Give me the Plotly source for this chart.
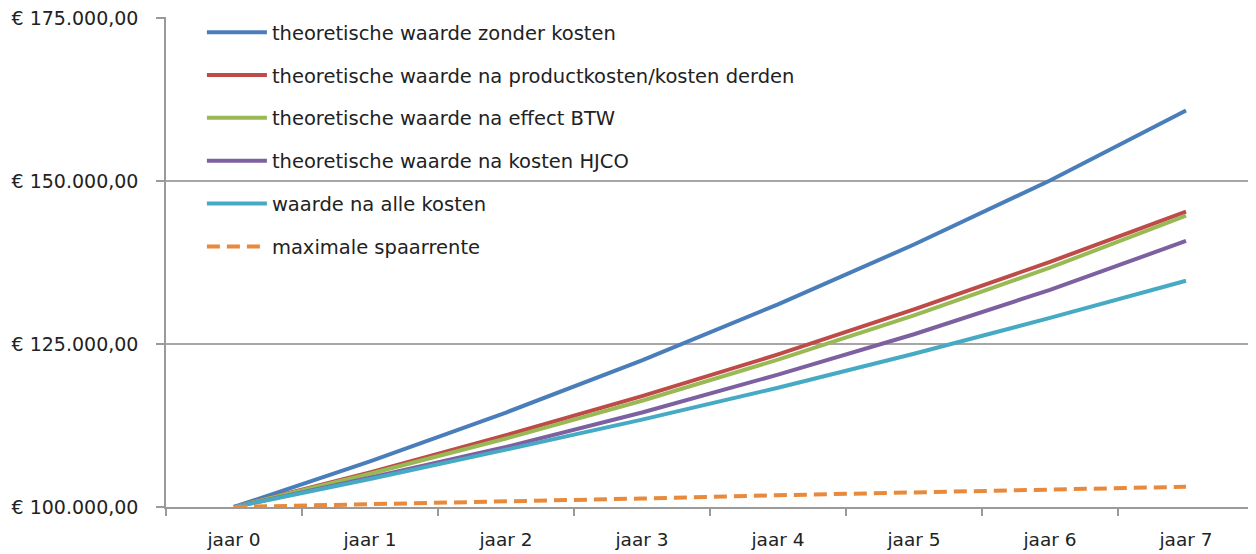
import plotly.graph_objects as go

categories = ["jaar 0", "jaar 1", "jaar 2", "jaar 3", "jaar 4", "jaar 5", "jaar 6", "jaar 7"]

zonder_kosten = [100000, 107000, 114490, 122504, 131080, 140255, 150073, 160800]
na_productkosten = [100000, 105300, 111000, 117000, 123400, 130300, 137600, 145300]
na_btw = [100000, 105100, 110500, 116300, 122600, 129400, 136700, 144700]
na_kosten_hjco = [100000, 104500, 109200, 114500, 120300, 126500, 133300, 140800]
na_alle_kosten = [100000, 104300, 108800, 113400, 118300, 123500, 129000, 134700]
spaarrente = [100000, 100400, 100900, 101300, 101800, 102200, 102600, 103100]

series_names = [
    "theoretische waarde zonder kosten",
    "theoretische waarde na productkosten/kosten derden",
    "theoretische waarde na effect BTW",
    "theoretische waarde na kosten HJCO",
    "waarde na alle kosten",
    "maximale spaarrente",
]
series_values = [zonder_kosten, na_productkosten, na_btw, na_kosten_hjco, na_alle_kosten, spaarrente]
colors = ["#4a7ebb", "#be4b48", "#98b954", "#7d60a0", "#46aac5", "#e8893b"]
dashes = ["solid", "solid", "solid", "solid", "solid", "13px,7px"]

y_tickvals = [100000, 125000, 150000, 175000]
y_ticktext = ["€ 100.000,00", "€ 125.000,00", "€ 150.000,00", "€ 175.000,00"]

fig = go.Figure()
for i, (name, vals) in enumerate(zip(series_names, series_values)):
    fig.add_trace(go.Scatter(
        x=categories, y=vals, mode="lines", name=name,
        legendgroup=f"g{i}",
        line=dict(color=colors[i], width=4, dash=dashes[i]),
    ))

# note: page body has an 8px default margin, margins compensate for it
fig.update_layout(
    width=1256, height=554,
    margin=dict(l=158, r=10, t=9, b=55, autoexpand=False),
    paper_bgcolor="white", plot_bgcolor="white",
    font=dict(family="DejaVu Sans", color="#222222", size=18),
    showlegend=True,
    legend=dict(
        xref="paper", yref="container",
        x=0.033, y=0.991, xanchor="left", yanchor="top",
        bgcolor="rgba(0,0,0,0)", font=dict(size=19.5, family="DejaVu Sans"),
        tracegroupgap=14.5, itemwidth=60,
    ),
    xaxis=dict(
        type="category", range=[-0.5, 7.5], showgrid=False,
        showline=True, linecolor="#9a9a9a", linewidth=1.5,
        ticks="outside", tickson="boundaries", ticklen=7, tickcolor="#9a9a9a", tickwidth=1.5,
        tickfont=dict(size=18.5), ticklabelstandoff=15,
    ),
    yaxis=dict(
        range=[100000, 175153], tickvals=y_tickvals, ticktext=y_ticktext,
        showgrid=True, gridcolor="#a6a6a6", gridwidth=1.5,
        showline=True, linecolor="#9a9a9a", linewidth=1.5,
        ticks="outside", ticklen=8, tickcolor="#9a9a9a", tickwidth=1.5,
        tickfont=dict(size=19), ticklabelstandoff=14, zeroline=False,
        ticklabeloverflow="allow",
    ),
)

fig.write_html("out.html")
